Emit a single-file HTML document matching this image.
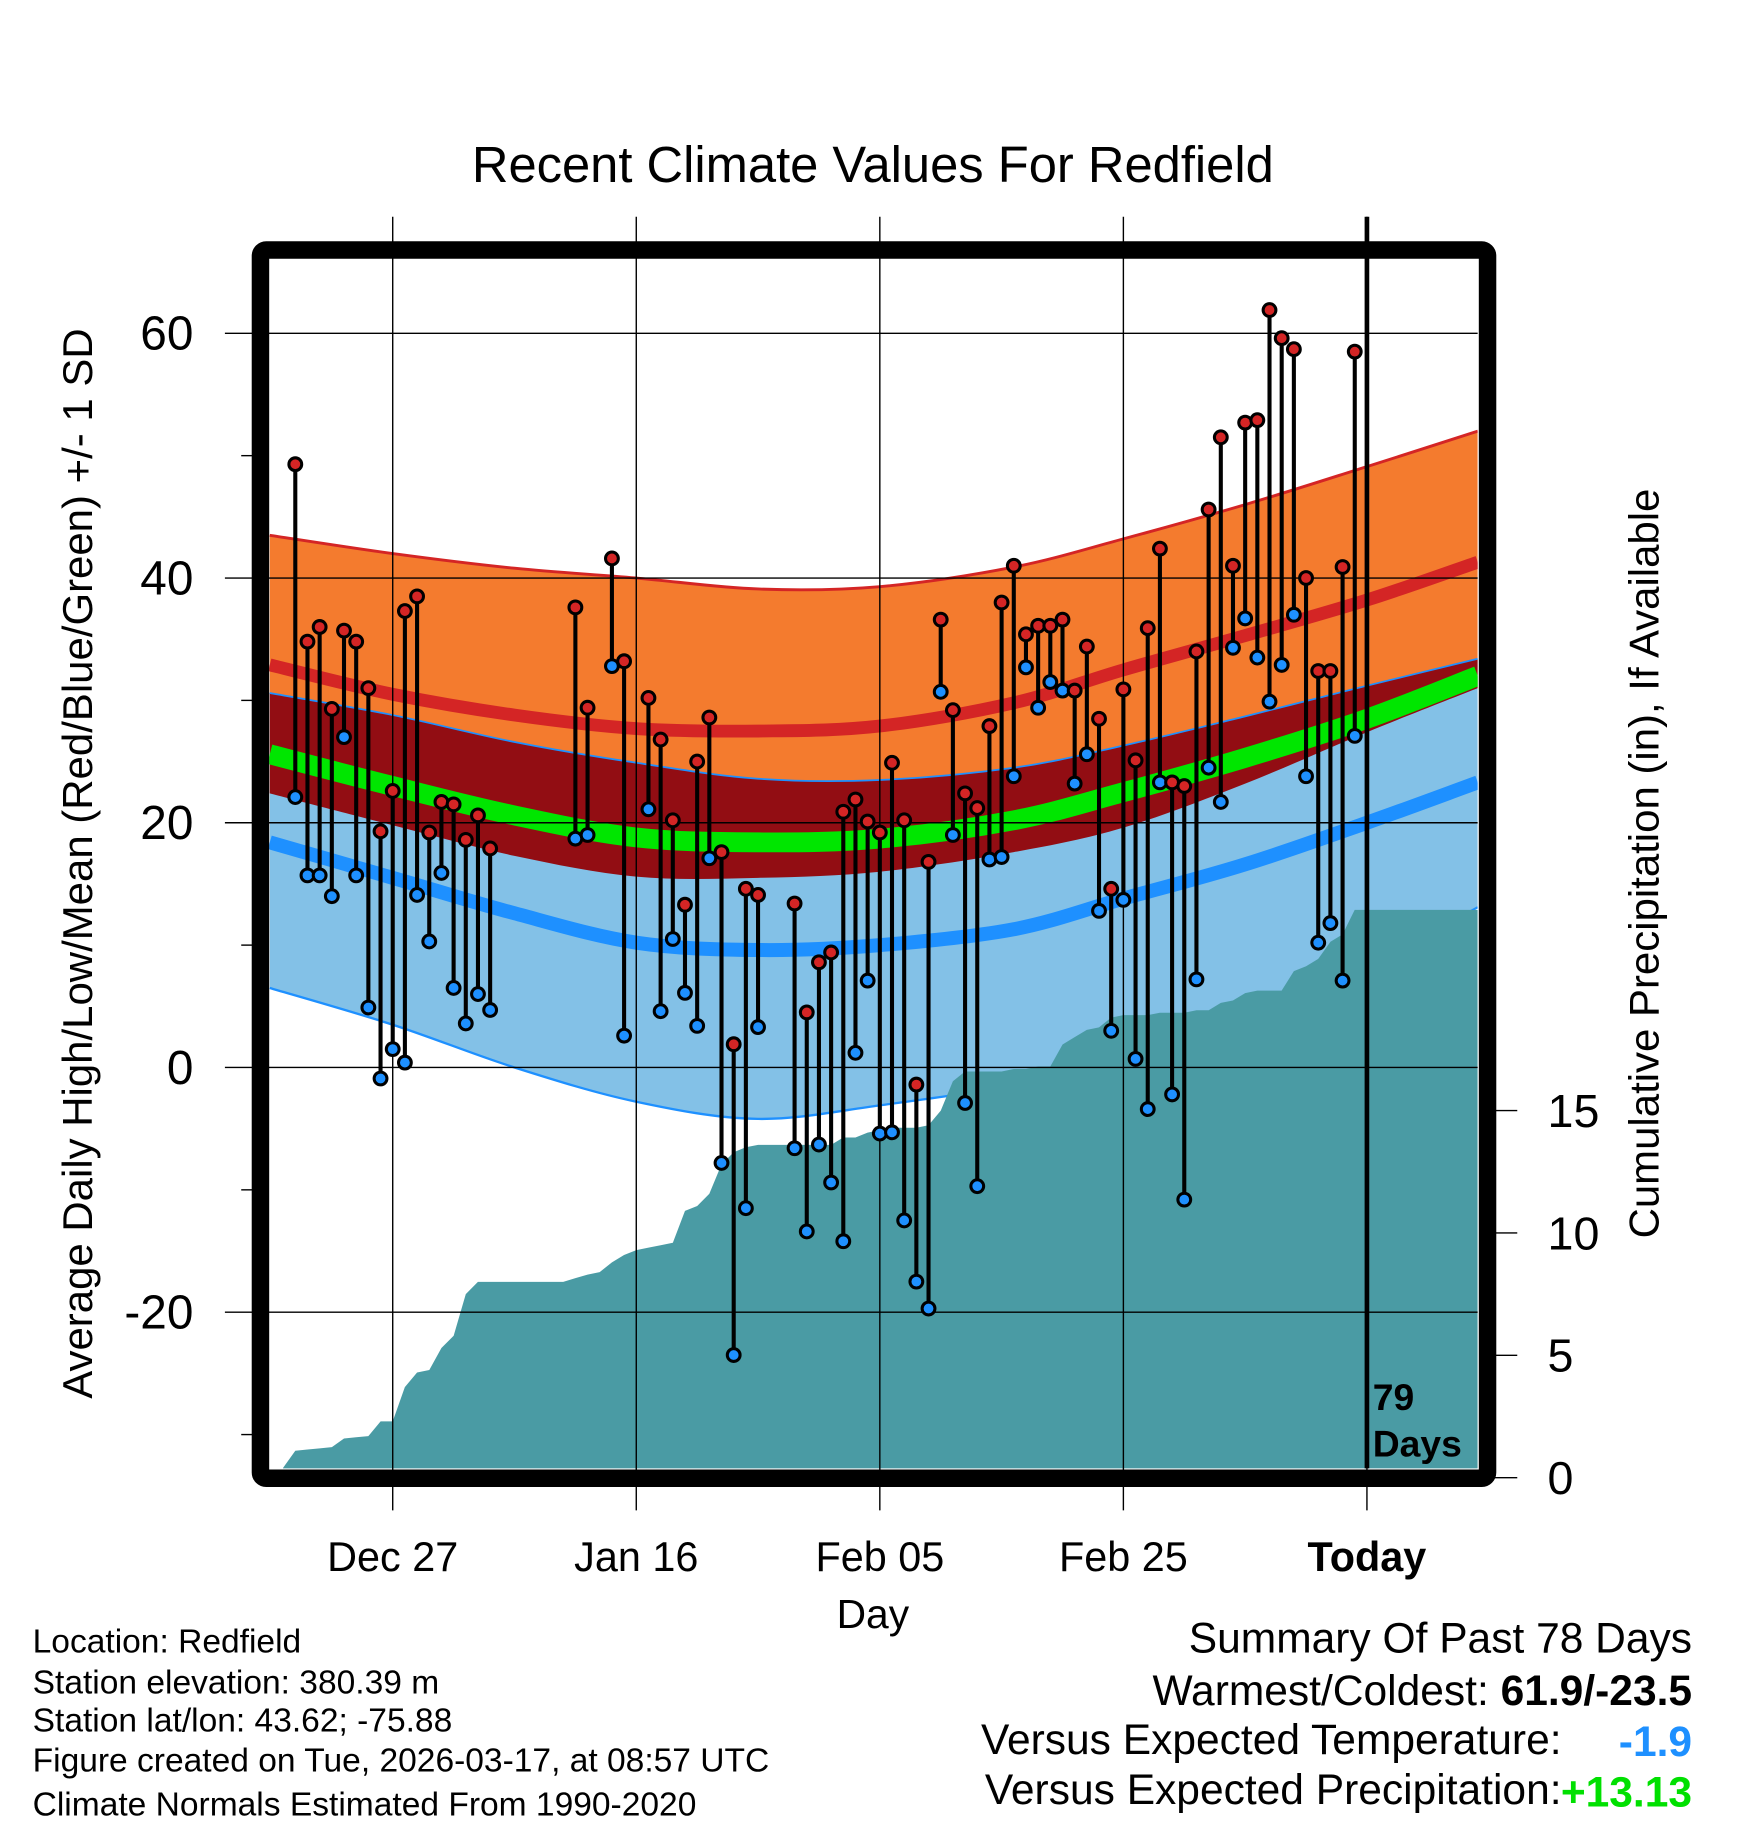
<!DOCTYPE html>
<html><head><meta charset="utf-8"><style>
html,body{margin:0;padding:0;background:#fff;}
svg{display:block;font-family:"Liberation Sans",Arial,sans-serif;}
</style></head><body>
<svg id="chart" width="1748" height="1828" viewBox="0 0 1500 1568.6" preserveAspectRatio="none" xmlns="http://www.w3.org/2000/svg">
<rect x="0" y="0" width="1500" height="1568.6" fill="#fff"/>
<g id="plot"></g>
<text x="749" y="156" font-size="43.5" text-anchor="middle">Recent Climate Values For Redfield</text>
<text transform="translate(79,741) rotate(-90)" font-size="36" text-anchor="middle">Average Daily High/Low/Mean (Red/Blue/Green) +/- 1 SD</text>
<text transform="translate(1423,741) rotate(-90)" font-size="36" text-anchor="middle">Cumulative Precipitation (in), If Available</text>
<text x="749" y="1397" font-size="35" text-anchor="middle">Day</text>
<g font-size="28.8">
<text x="28" y="1418">Location: Redfield</text>
<text x="28" y="1453">Station elevation: 380.39 m</text>
<text x="28" y="1486">Station lat/lon: 43.62; -75.88</text>
<text x="28" y="1520">Figure created on Tue, 2026-03-17, at 08:57 UTC</text>
<text x="28" y="1558">Climate Normals Estimated From 1990-2020</text>
</g>
<g font-size="36.5" text-anchor="end">
<text x="1452" y="1418">Summary Of Past 78 Days</text>
<text x="1452" y="1463">Warmest/Coldest: <tspan font-weight="bold">61.9/-23.5</tspan></text>
<text x="1340" y="1505">Versus Expected Temperature:</text>
<text x="1452" y="1507" font-weight="bold" fill="#1e90ff">-1.9</text>
<text x="1340" y="1548">Versus Expected Precipitation:</text>
<text x="1452" y="1550" font-weight="bold" fill="#00e000">+13.13</text>
</g>
</svg>
<script>
const normDays = [-10.1, 0, 10, 20, 30, 40, 51, 60, 70, 80, 89.1];
const hiPlus  = [43.5, 42, 40.8, 40, 39.1, 39.3, 40.9, 43.2, 46, 49.1, 52];
const hiMean  = [32.9, 30.5, 28.8, 27.7, 27.5, 27.9, 29.8, 32.5, 35.3, 38.2, 41.3];
const hiMinus = [22.4, 19.8, 17.3, 15.6, 15.5, 16, 17.6, 19.6, 23.2, 27.4, 31];
const avgMean = [25.6, 23, 20.6, 18.8, 18.4, 18.7, 20.2, 22.5, 25.3, 28.5, 32];
const loPlus  = [30.6, 28.8, 26.6, 24.9, 23.6, 23.5, 24.5, 26.3, 28.7, 31.2, 33.4];
const loMean  = [18.4, 15.5, 12.6, 10.2, 9.6, 10, 11.3, 13.8, 16.6, 20, 23.3];
const loMinus = [6.5, 3.5, 0, -2.8, -4.2, -3.1, -1.4, 1, 4.3, 8.2, 13.1];

const obsDays = [-8,-7,-6,-5,-4,-3,-2,-1,0,1,2,3,4,5,6,7,8,
 15,16,18,19,21,22,23,24,25,26,27,28,29,30,
 33,34,35,36,37,38,39,40,41,42,43,44,45,46,47,48,49,50,51,52,53,54,55,56,57,58,59,60,61,62,63,64,65,66,67,68,69,70,71,72,73,74,75,76,77,78,79];
const obsHigh = [49.3,34.8,36,29.3,35.7,34.8,31,19.3,22.6,37.3,38.5,19.2,21.7,21.5,18.6,20.6,17.9,
 37.6,29.4,41.6,33.2,30.2,26.8,20.2,13.3,25,28.6,17.6,1.9,14.6,14.1,
 13.4,4.5,8.6,9.4,20.9,21.9,20.1,19.2,24.9,20.2,-1.4,16.8,36.6,29.2,22.4,21.2,27.9,38,41,35.4,36.1,36.1,36.6,30.8,34.4,28.5,14.6,30.9,25.1,35.9,42.4,23.3,23,34,45.6,51.5,41,52.7,52.9,61.9,59.6,58.7,40,32.4,32.4,40.9,58.5];
const obsLow = [22.1,15.7,15.7,14,27,15.7,4.9,-0.9,1.5,0.4,14.1,10.3,15.9,6.5,3.6,6,4.7,
 18.7,19,32.8,2.6,21.1,4.6,10.5,6.1,3.4,17.1,-7.8,-23.5,-11.5,3.3,
 -6.6,-13.4,-6.3,-9.4,-14.2,1.2,7.1,-5.4,-5.3,-12.5,-17.5,-19.7,30.7,19,-2.9,-9.7,17,17.2,23.8,32.7,29.4,31.5,30.8,23.2,25.6,12.8,3,13.7,0.7,-3.4,23.3,-2.2,-10.8,7.2,24.5,21.7,34.3,36.7,33.5,29.9,32.9,37,23.8,10.2,11.8,7.1,27.1];

const precipDays = [-9,-8,-7,-6,-5,-4,-3,-2,-1,0,1,2,3,4,5,6,7,14,15,16,17,18,19,20,21,22,23,24,25,26,27,28,29,30,36,37,38,39,40,41,42,43,44,45,46,47,50,51,52,53,54,55,56,57,58,59,60,62,63,65,66,67,68,69,70,71,73,74,75,76,77,78,79,89.1];
const precipCum  = [0.4,1.1,1.15,1.2,1.25,1.6,1.65,1.7,2.3,2.3,3.7,4.3,4.4,5.3,5.8,7.5,8.0,8.0,8.15,8.3,8.4,8.8,9.1,9.3,9.4,9.5,9.6,10.9,11.1,11.6,12.8,13.3,13.5,13.6,13.6,13.9,13.9,14.1,14.2,14.3,14.3,14.3,14.4,15.0,16.2,16.6,16.6,16.7,16.7,16.8,16.8,17.7,18.0,18.3,18.4,18.8,18.9,18.9,19.0,19.0,19.1,19.1,19.4,19.5,19.8,19.9,19.9,20.7,20.9,21.2,21.9,22.2,23.2,23.2];

const yTicks = [60, 40, 20, 0, -20];
const yMinor = [50, 30, 10, -10, -30];
const pTicks = [0, 5, 10, 15];
const xTickDays = [0, 20, 40, 60, 80];
const xTickLabels = ["Dec 27", "Jan 16", "Feb 05", "Feb 25", "Today"];

const X = d => 337 + d * 10.45;
const Y = v => 916 - v * 10.5;
const P = p => 1268 - p * 21;
const L = 231, R = 1268, T = 222, B = 1260;
const NS = "http://www.w3.org/2000/svg";
const plot = document.getElementById('plot');
function mk(tag, attrs, parent) {
  const e = document.createElementNS(NS, tag);
  for (const k in attrs) e.setAttribute(k, attrs[k]);
  (parent || plot).appendChild(e);
  return e;
}
function smooth(pts) {
  let d = "M" + pts[0][0].toFixed(1) + "," + pts[0][1].toFixed(1);
  for (let i = 0; i < pts.length - 1; i++) {
    const p0 = pts[Math.max(0, i - 1)], p1 = pts[i], p2 = pts[i + 1], p3 = pts[Math.min(pts.length - 1, i + 2)];
    const c1 = [p1[0] + (p2[0] - p0[0]) / 6, p1[1] + (p2[1] - p0[1]) / 6];
    const c2 = [p2[0] - (p3[0] - p1[0]) / 6, p2[1] - (p3[1] - p1[1]) / 6];
    d += " C" + c1[0].toFixed(1) + "," + c1[1].toFixed(1) + " " + c2[0].toFixed(1) + "," + c2[1].toFixed(1) + " " + p2[0].toFixed(1) + "," + p2[1].toFixed(1);
  }
  return d;
}
function curve(arr) { return normDays.map((d, i) => [X(d), Y(arr[i])]); }
function band(top, bot) {
  const a = curve(top), b = curve(bot).reverse();
  return smooth(a) + " L" + smooth(b).slice(1) + " Z";
}

const clip = mk('clipPath', {id: 'inner'});
mk('rect', {x: L, y: T, width: R - L, height: B - T}, clip);
const g = mk('g', {'clip-path': 'url(#inner)'});

let e;
e = mk('path', {d: band(hiPlus, hiMinus), fill: '#f47b2e'}, g);


e = mk('path', {d: band(loPlus, loMinus), fill: '#83c1e7'}, g);


e = mk('path', {d: band(loPlus, hiMinus), fill: '#920d13'}, g);


e = mk('path', {d: smooth(curve(hiPlus)), fill: 'none', stroke: '#d42525', 'stroke-width': 2.5}, g);


e = mk('path', {d: smooth(curve(loPlus)), fill: 'none', stroke: '#1e90ff', 'stroke-width': 1.5}, g);


e = mk('path', {d: smooth(curve(loMinus)), fill: 'none', stroke: '#1e90ff', 'stroke-width': 2}, g);


e = mk('path', {d: smooth(curve(hiMean)), fill: 'none', stroke: '#d42525', 'stroke-width': 11}, g);


e = mk('path', {d: smooth(curve(loMean)), fill: 'none', stroke: '#1e90ff', 'stroke-width': 12}, g);


e = mk('path', {d: smooth(curve(avgMean)), fill: 'none', stroke: '#00e600', 'stroke-width': 17}, g);



yTicks.forEach(v => {
  const l = mk('line', {x1: 193, x2: R, y1: Y(v), y2: Y(v), stroke: '#000', 'stroke-width': 1.2});
  
  
  const t = mk('text', {x: 166, y: Y(v) + 14, 'font-size': 41, 'text-anchor': 'end'});
  t.textContent = v;
  
  
});
yMinor.forEach(v => {
  const l = mk('line', {x1: 207, x2: 218, y1: Y(v), y2: Y(v), stroke: '#000', 'stroke-width': 1.2});
  
  
});
xTickDays.forEach((d, i) => {
  const l = mk('line', {x1: X(d), x2: X(d), y1: 186, y2: 1296, stroke: '#000', 'stroke-width': 1.2});
  
  
  const t = mk('text', {x: X(d), y: 1348, 'font-size': 35.5, 'text-anchor': 'middle'});
  if (i === xTickLabels.length - 1) t.setAttribute('font-weight', 'bold');
  t.textContent = xTickLabels[i];
  
  
});
pTicks.forEach(p => {
  const l = mk('line', {x1: 1282, x2: 1302, y1: P(p), y2: P(p), stroke: '#000', 'stroke-width': 1.2});
  
  
  const t = mk('text', {x: 1328, y: P(p) + 14, 'font-size': 40});
  t.textContent = p;
  
  
});

let pd = "M" + X(precipDays[0]) + "," + (B + 10);
precipDays.forEach((d, i) => { pd += " L" + X(d).toFixed(1) + "," + P(precipCum[i]).toFixed(1); });
pd += " L" + X(precipDays[precipDays.length - 1]).toFixed(1) + "," + (B + 10) + " Z";
e = mk('path', {d: pd, fill: '#4a9ba4'}, g);



obsDays.forEach((d, i) => {
  const x = X(d);
  const s = mk('line', {x1: x, x2: x, y1: Y(obsHigh[i]), y2: Y(obsLow[i]), stroke: '#000', 'stroke-width': 3.5});
  
  
});
obsDays.forEach((d, i) => {
  const x = X(d);
  const lo = mk('circle', {cx: x, cy: Y(obsLow[i]), r: 5.5, fill: '#1e90ff', stroke: '#000', 'stroke-width': 2.6});
  
  
  const hi = mk('circle', {cx: x, cy: Y(obsHigh[i]), r: 5.5, fill: '#d42525', stroke: '#000', 'stroke-width': 2.6});
  
  
});

e = mk('line', {x1: X(80), x2: X(80), y1: 186, y2: B, stroke: '#000', 'stroke-width': 4});


e = mk('text', {x: 1178, y: 1210, 'font-size': 32, 'font-weight': 'bold'});
e.textContent = "79";


e = mk('text', {x: 1178, y: 1250, 'font-size': 32, 'font-weight': 'bold'});
e.textContent = "Days";



e = mk('rect', {x: 223.5, y: 214.5, width: 1053, height: 1054, fill: 'none', stroke: '#000', 'stroke-width': 15, rx: 5});


</script>
</body></html>
